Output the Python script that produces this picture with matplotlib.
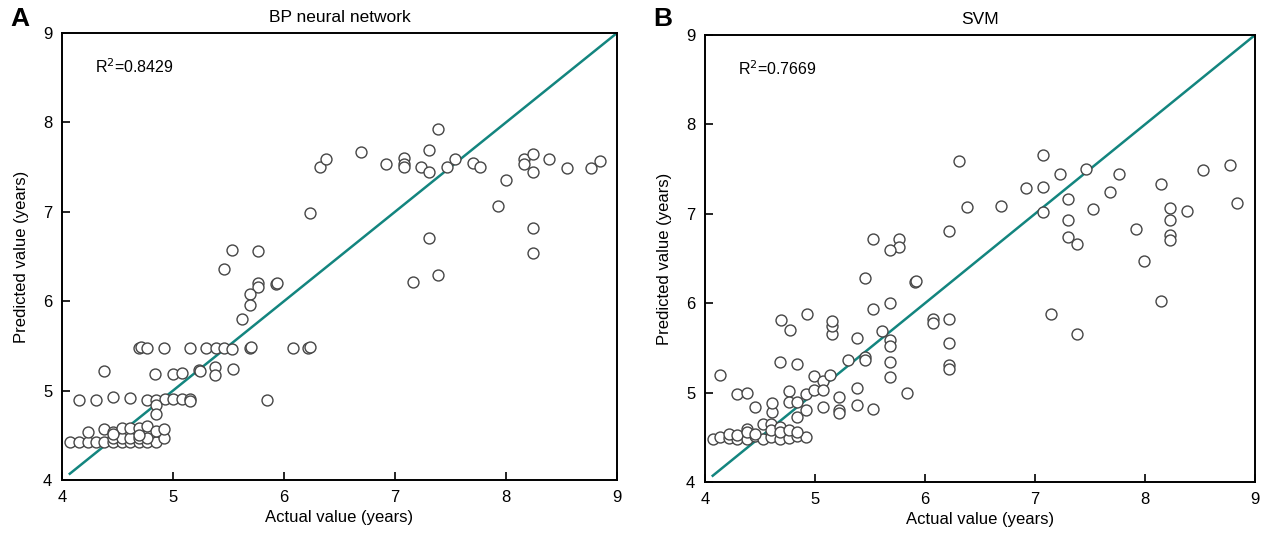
#!/usr/bin/env python3

'''
Predicted vs actual value scatter plots for the BP neural network
and the SVM models, with the identity line. Saves out.png.
'''

import numpy as np
from matplotlib import pyplot as plt

plt.rcParams['font.family'] = ['Liberation Sans', 'DejaVu Sans']

# BP neural network: actual / predicted values (years)
BP_ACTUAL = [
    4.69, 4.71, 4.77, 4.92, 5.15, 5.30, 5.39, 5.46, 5.53, 5.69, 5.70, 6.08, 6.22, 6.23,
    4.38, 4.84, 5.00, 5.08, 5.23, 5.24, 5.38, 5.38, 5.54,
    4.15, 4.31, 4.46, 4.61, 4.77, 4.85, 4.93, 5.00, 5.08, 5.15, 5.15, 5.85, 4.85, 4.85,
    4.07, 4.15, 4.23, 4.31, 4.38, 4.46, 4.54, 4.61, 4.69, 4.77, 4.85,
    4.46, 4.54, 4.61, 4.69, 4.77, 4.92,
    4.23, 4.38, 4.46, 4.54, 4.61, 4.69, 4.77, 4.85, 4.92, 4.46, 4.69,
    5.53, 5.77, 5.46, 5.77, 5.77, 5.93, 5.94, 5.69, 5.69, 5.62,
    6.23, 6.32, 6.38, 6.69, 6.92, 7.08, 7.08, 7.08, 7.23, 7.31, 7.31, 7.39,
    7.47, 7.54, 7.70, 7.77, 8.00, 7.93, 8.16, 8.16, 8.24, 8.24, 8.39, 8.55,
    8.77, 8.85, 7.31, 8.24, 8.24, 7.39, 7.16,
]
BP_PREDICTED = [
    5.48, 5.49, 5.48, 5.48, 5.48, 5.48, 5.48, 5.48, 5.46, 5.48, 5.49, 5.48, 5.48, 5.49,
    5.22, 5.19, 5.19, 5.20, 5.23, 5.22, 5.26, 5.17, 5.24,
    4.89, 4.90, 4.93, 4.92, 4.90, 4.89, 4.91, 4.91, 4.91, 4.91, 4.88, 4.90, 4.84, 4.74,
    4.42, 4.42, 4.42, 4.42, 4.42, 4.42, 4.42, 4.42, 4.42, 4.42, 4.42,
    4.47, 4.47, 4.47, 4.47, 4.47, 4.47,
    4.54, 4.57, 4.54, 4.58, 4.58, 4.58, 4.60, 4.55, 4.57, 4.51, 4.50,
    6.57, 6.56, 6.36, 6.20, 6.16, 6.19, 6.20, 6.08, 5.96, 5.80,
    6.99, 7.50, 7.59, 7.67, 7.53, 7.60, 7.54, 7.50, 7.50, 7.69, 7.44, 7.93,
    7.50, 7.59, 7.55, 7.50, 7.36, 7.06, 7.59, 7.53, 7.65, 7.44, 7.59, 7.49,
    7.49, 7.57, 6.71, 6.82, 6.54, 6.29, 6.21,
]

# SVM: actual / predicted values (years)
SVM_ACTUAL = [
    4.07, 4.14, 4.22, 4.29, 4.38, 4.45, 4.53, 4.60, 4.68, 4.76, 4.84, 4.92,
    4.22, 4.29, 4.38, 4.38, 4.45, 4.53, 4.60, 4.60, 4.68, 4.68, 4.76, 4.84,
    4.61, 4.61, 4.45, 4.29, 4.38, 4.14, 4.76, 4.76, 4.84, 4.84, 4.92, 4.92,
    4.99, 4.99, 5.07, 5.07, 5.07, 5.14, 5.22, 5.22, 5.22, 5.38, 5.38, 5.53,
    5.84, 4.68, 4.84, 5.30, 5.45, 5.45, 5.68, 5.68, 5.68, 5.68, 5.38, 5.15,
    5.15, 5.15, 4.69, 4.77, 4.93, 6.22, 6.22, 6.22, 6.22, 6.07, 6.07,
    5.53, 5.76, 5.76, 5.68, 5.45, 5.91, 5.92, 5.68, 5.53, 5.61, 6.22,
    7.07, 6.31, 7.23, 7.46, 7.76, 6.92, 7.07, 7.30, 7.68, 8.15, 8.53, 8.77,
    8.84, 6.38, 6.69, 7.07, 7.30, 7.53, 8.23, 8.38, 8.23, 7.30, 7.38, 7.92,
    8.23, 8.23, 7.99, 8.15, 7.15, 7.38,
]
SVM_PREDICTED = [
    4.48, 4.50, 4.49, 4.48, 4.48, 4.51, 4.48, 4.50, 4.48, 4.49, 4.51, 4.50,
    4.54, 4.53, 4.59, 4.56, 4.54, 4.65, 4.65, 4.58, 4.62, 4.56, 4.58, 4.56,
    4.78, 4.88, 4.84, 4.98, 5.00, 5.20, 5.02, 4.90, 4.89, 4.73, 4.80, 4.98,
    5.19, 5.03, 5.13, 5.03, 4.84, 5.20, 4.95, 4.81, 4.77, 5.05, 4.86, 4.82,
    5.00, 5.34, 5.32, 5.36, 5.40, 5.36, 5.59, 5.52, 5.34, 5.17, 5.61, 5.66,
    5.75, 5.80, 5.81, 5.70, 5.88, 5.56, 5.31, 5.26, 5.82, 5.82, 5.78,
    6.72, 6.72, 6.63, 6.60, 6.28, 6.24, 6.25, 6.00, 5.94, 5.69, 6.81,
    7.66, 7.59, 7.45, 7.50, 7.45, 7.29, 7.30, 7.17, 7.24, 7.33, 7.49, 7.55,
    7.12, 7.08, 7.09, 7.02, 6.93, 7.05, 7.07, 7.03, 6.93, 6.74, 6.66, 6.83,
    6.76, 6.71, 6.47, 6.02, 5.88, 5.66,
]

PANELS = [
    ('A', 'BP neural network', 'R$^2$=0.8429', BP_ACTUAL, BP_PREDICTED,
     [0.0488, 0.1144, 0.4366, 0.8247]),
    ('B', 'SVM', 'R$^2$=0.7669', SVM_ACTUAL, SVM_PREDICTED,
     [0.5547, 0.1107, 0.4327, 0.8247]),
]
TICKS = np.arange(4, 10)
LINE_COLOR = '#13857f'
X_LABEL = 'Actual value (years)'
Y_LABEL = 'Predicted value (years)'
PNG_FILENAME = 'out.png'


if __name__ == '__main__':
    fig = plt.figure(figsize=(12.71, 5.42), dpi=100)

    for letter, title, r2_text, actual, predicted, rect in PANELS:
        ax = fig.add_axes(rect)
        ax.plot([4.07, 9], [4.07, 9], color=LINE_COLOR, lw=1.8, zorder=1)
        ax.scatter(actual, predicted, s=62, facecolors='white',
                   edgecolors='#454545', linewidths=1.0, zorder=2)

        ax.set_xlim(4, 9)
        ax.set_ylim(4, 9)
        ax.set_xticks(TICKS)
        ax.set_yticks(TICKS)
        ax.tick_params(direction='in', length=6, width=1.2, labelsize=12,
                       top=False, right=False)
        ax.tick_params(axis='x', pad=7)
        ax.tick_params(axis='y', pad=7)
        for spine in ax.spines.values():
            spine.set_linewidth(1.4)

        ax.set_title(title, fontsize=12.5, pad=8)
        ax.set_xlabel(X_LABEL, fontsize=12, labelpad=4)
        ax.set_ylabel(Y_LABEL, fontsize=12, labelpad=10)
        ax.text(0.06, 0.91, r2_text, transform=ax.transAxes, fontsize=11.5)

        fig.text(rect[0] - 0.033, 0.965, letter, fontsize=19,
                 fontweight='bold', ha='center', va='center')

    plt.savefig(PNG_FILENAME)
